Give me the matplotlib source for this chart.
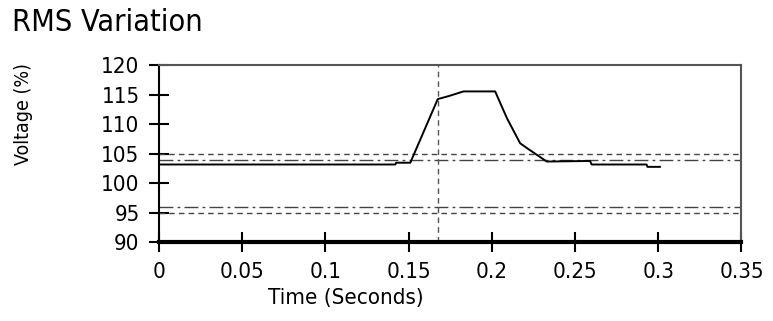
import matplotlib

matplotlib.use("Agg")
import matplotlib.pyplot as plt

# RMS voltage trace (seconds, percent of nominal)
time_s = [0.0, 0.142, 0.1425, 0.151, 0.1675, 0.174, 0.183, 0.202, 0.209,
          0.217, 0.221, 0.233, 0.259, 0.260, 0.293, 0.2935, 0.301]
voltage_pct = [103.2, 103.2, 103.5, 103.5, 114.3, 114.8, 115.6, 115.6, 111.1,
               106.8, 106.0, 103.7, 103.8, 103.2, 103.2, 102.8, 102.8]

# limit lines
dashed_limits = [105, 95]
dashdot_limits = [104, 96]
event_time = 0.1675

x_ticks = [0, 0.05, 0.1, 0.15, 0.2, 0.25, 0.3, 0.35]
x_tick_labels = ["0", "0.05", "0.1", "0.15", "0.2", "0.25", "0.3", "0.35"]
y_ticks = [90, 95, 100, 105, 110, 115, 120]

plt.rcParams["font.family"] = ["DejaVu Sans"]
plt.rcParams["font.stretch"] = "condensed"

fig = plt.figure(figsize=(7.73, 3.21), dpi=100)
ax = fig.add_axes([0.2057, 0.2452, 0.7535, 0.5508])

for level in dashed_limits:
    ax.axhline(level, color="#444444", lw=1.0, ls=(0, (4, 3)))
for level in dashdot_limits:
    ax.axhline(level, color="#444444", lw=1.0, ls=(0, (10, 3, 2, 3)))
ax.axvline(event_time, color="#555555", lw=1.0, ls=(0, (4, 3)))

ax.plot(time_s, voltage_pct, color="black", lw=1.4)

ax.set_xlim(0, 0.35)
ax.set_ylim(90, 120)
ax.set_xticks(x_ticks)
ax.set_xticklabels(x_tick_labels)
ax.set_yticks(y_ticks)

ax.tick_params(axis="both", direction="inout", length=14, width=1.5,
               colors="black", labelsize=16)
ax.tick_params(axis="y", pad=7)
ax.tick_params(axis="x", pad=7)

ax.spines["bottom"].set_linewidth(3)
ax.spines["left"].set_linewidth(1.5)
ax.spines["top"].set_color("#555555")
ax.spines["right"].set_color("#555555")
ax.spines["top"].set_linewidth(1.5)
ax.spines["right"].set_linewidth(1.5)

fig.text(0.016, 0.93, "RMS Variation", fontsize=22, ha="left", va="center")
fig.text(0.447, 0.072, "Time (Seconds)", fontsize=16, ha="center", va="center")
fig.text(0.03, 0.645, "Voltage (%)", fontsize=14, rotation=90,
         ha="center", va="center")

fig.savefig("out.png", dpi=100)
